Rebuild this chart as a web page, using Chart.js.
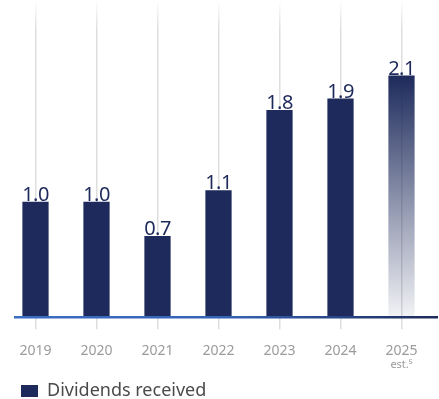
<!DOCTYPE html>
<html>
<head>
<meta charset="utf-8">
<script src="https://cdn.jsdelivr.net/npm/chart.js@4.4.1/dist/chart.umd.min.js"></script>
<style>
  html, body { margin: 0; padding: 0; background: #fff; }
  #wrap { width: 439px; height: 399px; }
</style>
</head>
<body>
<div id="wrap"><canvas id="dividendChart"></canvas></div>
<script>
// dividends received per year (2025 is an estimate)
const years = ["2019", "2020", "2021", "2022", "2023", "2024", "2025"];
const dividends = [1.0, 1.0, 0.7, 1.1, 1.8, 1.9, 2.1];
const estimateIndex = 6;
const estimateNote = "est.\u2075";
const seriesName = "Dividends received";

const navy = "#1d2a5b";
const tickGrey = "#9b9b9b";
const fontFamily = "'Noto Sans', sans-serif";

// fade the vertical grid lines in from the top
function gridColor(ctx) {
  const chart = ctx.chart;
  const area = chart.chartArea;
  if (!area) return "#dedede";
  const g = chart.ctx.createLinearGradient(0, area.top, 0, area.top + 30);
  g.addColorStop(0, "rgba(222,222,222,0)");
  g.addColorStop(1, "rgba(222,222,222,1)");
  return g;
}

// the estimate bar fades from navy to almost nothing
function barColor(ctx) {
  if (ctx.dataIndex !== estimateIndex) return navy;
  const chart = ctx.chart;
  const area = chart.chartArea;
  if (!area) return navy;
  const top = chart.scales.y.getPixelForValue(dividends[estimateIndex]);
  const g = chart.ctx.createLinearGradient(0, top, 0, area.bottom);
  g.addColorStop(0, "rgba(29,42,91,1)");
  g.addColorStop(1, "rgba(29,42,91,0.06)");
  return g;
}

// value above each bar + the baseline + the "est." note
const decorations = {
  id: "decorations",
  afterDatasetsDraw(chart) {
    const ctx = chart.ctx;
    const area = chart.chartArea;
    const xScale = chart.scales.x;
    const meta = chart.getDatasetMeta(0);

    ctx.save();
    // baseline
    const y0 = area.bottom + 1;
    const lg = ctx.createLinearGradient(14, 0, chart.width, 0);
    lg.addColorStop(0, "#3b6dc2");
    lg.addColorStop(0.5, "#3563b4");
    lg.addColorStop(1, navy);
    ctx.strokeStyle = lg;
    ctx.lineWidth = 2.5;
    ctx.beginPath();
    ctx.moveTo(14, y0);
    ctx.lineTo(chart.width - 1, y0);
    ctx.stroke();

    // values
    ctx.fillStyle = navy;
    ctx.font = "20px " + fontFamily;
    ctx.textAlign = "center";
    ctx.textBaseline = "alphabetic";
    if ("letterSpacing" in ctx) ctx.letterSpacing = "-0.5px";
    meta.data.forEach((bar, i) => {
      ctx.fillText(dividends[i].toFixed(1), bar.x, bar.y - 1);
    });
    if ("letterSpacing" in ctx) ctx.letterSpacing = "0px";

    // estimate note under the last year
    ctx.fillStyle = tickGrey;
    ctx.font = "11px " + fontFamily;
    ctx.textBaseline = "middle";
    ctx.fillText(estimateNote, xScale.getPixelForValue(estimateIndex), area.bottom + 49);
    ctx.restore();
  }
};

new Chart(document.getElementById("dividendChart"), {
  type: "bar",
  data: {
    labels: years,
    datasets: [{
      label: seriesName,
      data: dividends,
      backgroundColor: barColor,
      borderWidth: 0,
      barPercentage: 0.43,
      categoryPercentage: 1
    }]
  },
  options: {
    responsive: true,
    maintainAspectRatio: false,
    animation: false,
    layout: { padding: { left: 5, right: 7, top: 0, bottom: -11 } },
    scales: {
      x: {
        grid: {
          color: gridColor,
          tickColor: "#dedede",
          lineWidth: 1.5,
          tickLength: 13,
          offset: false
        },
        border: { display: false },
        ticks: {
          color: tickGrey,
          font: { family: fontFamily, size: 14 },
          padding: 13
        },
        afterFit(scale) { scale.height -= 6; }
      },
      y: { display: false, min: 0, max: 2.76 }
    },
    plugins: {
      legend: {
        position: "bottom",
        align: "start",
        labels: {
          boxWidth: 17,
          boxHeight: 12,
          color: "#4a4a4a",
          font: { family: fontFamily, size: 18 },
          padding: 16
        }
      },
      tooltip: { enabled: false }
    }
  },
  plugins: [decorations]
});
</script>
</body>
</html>
